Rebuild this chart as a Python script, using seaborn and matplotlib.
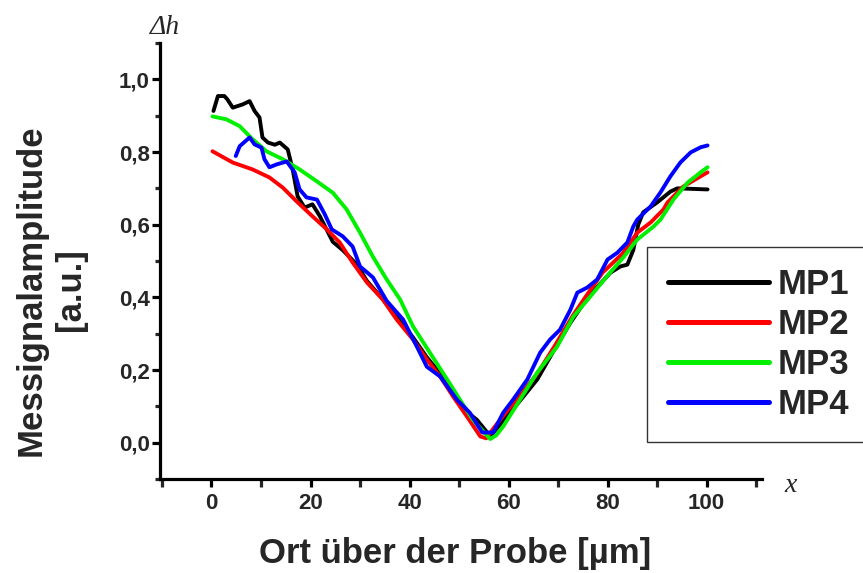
import numpy as np
import pandas as pd
import matplotlib
matplotlib.use("Agg")
import matplotlib.pyplot as plt
import seaborn as sns
from matplotlib.ticker import MultipleLocator, FuncFormatter

series_names = ["MP1", "MP2", "MP3", "MP4"]
series_colors = ["#000000", "#ff0000", "#00f000", "#0000ff"]

mp1_x = [0.4, 1.3, 2.6, 3.2, 4.3, 6.3, 7.7, 8.7, 9.7, 10.3, 11.4, 12.8, 13.8, 15.4, 16.4,
         17.4, 18.8, 20.4, 21.9, 24.5, 26.5, 29.4, 31.4, 34.6, 37.4, 40.7, 43.5, 46.2,
         48.8, 51.6, 53.6, 55.7, 56.5, 58.9, 62.0, 65.8, 69.0, 72.5, 76.0, 80.6, 82.6,
         84.0, 85.2, 86.2, 87.2, 90.0, 92.7, 94.1, 100.2]
mp1_y = [0.913, 0.954, 0.954, 0.945, 0.922, 0.931, 0.940, 0.913, 0.895, 0.840, 0.826,
         0.820, 0.826, 0.807, 0.752, 0.678, 0.647, 0.656, 0.623, 0.553, 0.530, 0.490,
         0.445, 0.395, 0.345, 0.290, 0.235, 0.190, 0.135, 0.085, 0.063, 0.028, 0.020,
         0.060, 0.110, 0.174, 0.250, 0.330, 0.400, 0.468, 0.485, 0.490, 0.530, 0.600,
         0.634, 0.661, 0.691, 0.700, 0.697]

mp2_x = [0.2, 4.3, 8.3, 11.7, 14.4, 17.2, 20.4, 23.3, 25.9, 28.5, 31.4, 34.6, 37.4, 40.7,
         43.5, 46.2, 48.8, 51.6, 54.3, 55.5, 57.0, 59.0, 62.0, 65.8, 69.5, 73.0, 76.0,
         79.0, 83.0, 86.0, 88.7, 91.3, 92.1, 95.3, 98.8, 100.2]
mp2_y = [0.802, 0.771, 0.752, 0.730, 0.702, 0.664, 0.623, 0.587, 0.551, 0.496, 0.441,
         0.394, 0.339, 0.284, 0.229, 0.182, 0.127, 0.072, 0.017, 0.012, 0.040, 0.075,
         0.125, 0.190, 0.270, 0.350, 0.410, 0.468, 0.520, 0.578, 0.606, 0.642, 0.661,
         0.705, 0.733, 0.744]

mp3_x = [0.2, 3.0, 5.7, 8.3, 11.1, 14.4, 17.8, 21.3, 24.5, 27.3, 30.0, 32.6, 35.4, 38.1,
         40.7, 44.1, 47.6, 50.2, 52.8, 56.3, 57.5, 58.9, 62.3, 65.8, 69.8, 73.1, 76.5,
         80.0, 83.2, 86.0, 89.3, 90.7, 93.3, 96.2, 98.8, 100.2]
mp3_y = [0.898, 0.890, 0.871, 0.835, 0.802, 0.780, 0.752, 0.719, 0.688, 0.642, 0.578,
         0.512, 0.449, 0.394, 0.320, 0.248, 0.174, 0.118, 0.063, 0.010, 0.020, 0.044,
         0.118, 0.193, 0.264, 0.347, 0.402, 0.460, 0.510, 0.559, 0.595, 0.614, 0.669,
         0.716, 0.744, 0.758]

mp4_x = [4.9, 5.7, 7.7, 8.7, 10.1, 10.7, 11.7, 13.2, 15.2, 16.8, 17.8, 19.2, 21.3, 22.9,
         24.3, 26.5, 28.5, 30.0, 32.6, 35.4, 38.7, 41.5, 43.5, 46.2, 49.6, 52.2, 54.7,
         56.9, 58.9, 60.9, 63.8, 66.4, 68.4, 70.4, 72.5, 73.9, 75.9, 77.9, 80.0, 82.0,
         84.0, 85.2, 86.0, 88.7, 90.7, 92.7, 94.7, 96.8, 98.8, 100.2]
mp4_y = [0.789, 0.816, 0.840, 0.821, 0.812, 0.780, 0.758, 0.766, 0.774, 0.744, 0.697,
         0.675, 0.669, 0.628, 0.587, 0.568, 0.540, 0.485, 0.455, 0.390, 0.339, 0.264,
         0.209, 0.182, 0.118, 0.082, 0.028, 0.028, 0.082, 0.118, 0.174, 0.248, 0.284,
         0.311, 0.366, 0.413, 0.427, 0.449, 0.504, 0.523, 0.551, 0.595, 0.614, 0.650,
         0.689, 0.733, 0.771, 0.799, 0.813, 0.818]

x_major_ticks = [0, 20, 40, 60, 80, 100]
y_major_ticks = [0.0, 0.2, 0.4, 0.6, 0.8, 1.0]

frames = []
for name, xs, ys in zip(series_names, [mp1_x, mp2_x, mp3_x, mp4_x],
                        [mp1_y, mp2_y, mp3_y, mp4_y]):
    frames.append(pd.DataFrame({"x": xs, "y": ys, "series": name}))
df = pd.concat(frames, ignore_index=True)

sns.set_style("ticks")
plt.rcParams["font.family"] = ["Liberation Sans", "DejaVu Sans"]

fig = plt.figure(figsize=(8.63, 5.73), dpi=100)
ax = fig.add_axes([160 / 863, 1 - 479 / 573, 602 / 863, 436 / 573])

sns.lineplot(data=df, x="x", y="y", hue="series", hue_order=series_names,
             palette=dict(zip(series_names, series_colors)), estimator=None,
             sort=False, linewidth=2.8, ax=ax, legend=False)

ax.set_xlim(-10.4, 111.2)
ax.set_ylim(-0.1, 1.1)
for s in ["top", "right"]:
    ax.spines[s].set_visible(False)
for s in ["left", "bottom"]:
    ax.spines[s].set_linewidth(2.3)
    ax.spines[s].set_color("black")

ax.xaxis.set_major_locator(plt.FixedLocator(x_major_ticks))
ax.xaxis.set_minor_locator(MultipleLocator(10))
ax.yaxis.set_major_locator(plt.FixedLocator(y_major_ticks))
ax.yaxis.set_minor_locator(MultipleLocator(0.1))
ax.xaxis.set_major_formatter(FuncFormatter(lambda v, p: f"{v:.0f}"))
ax.yaxis.set_major_formatter(FuncFormatter(lambda v, p: f"{v:.1f}".replace(".", ",")))

ax.tick_params(axis="both", which="major", direction="out", length=6, width=2.3,
               labelsize=16, color="black")
ax.tick_params(axis="x", which="minor", direction="out", length=6, width=2.3)
ax.tick_params(axis="y", which="minor", direction="out", length=3.5, width=2.3)
ax.tick_params(axis="y", which="major", pad=1.5)
ax.tick_params(axis="x", which="major", pad=4)
for lab in ax.get_xticklabels() + ax.get_yticklabels():
    lab.set_fontweight("bold")

ax.set_xlabel("Ort über der Probe [µm]", fontsize=25, fontweight="bold", va="center")
ax.xaxis.set_label_coords((455 - 160) / 602, (479 - 553) / 436)
ax.set_ylabel("Messignalamplitude\n[a.u.]", fontsize=25, fontweight="bold",
              va="center", ha="center", linespacing=1.25, multialignment="center")
ax.yaxis.set_label_coords((51 - 160) / 602, (479 - 290) / 436)

fig.text(165 / 863, 1 - 27 / 573, "Δh", fontfamily=["Liberation Serif", "DejaVu Serif"],
         style="italic", fontsize=20, ha="center", va="center")
fig.text(791 / 863, 1 - 485 / 573, "x", fontfamily=["Liberation Serif", "DejaVu Serif"],
         style="italic", fontsize=20, ha="center", va="center")

handles = [plt.Line2D([], [], color=c, lw=3.6) for c in series_colors]
leg = ax.legend(handles, series_names, loc="upper left",
                bbox_to_anchor=(647 / 863, 1 - 247 / 573), bbox_transform=fig.transFigure,
                prop={"weight": "bold", "size": 25}, frameon=True, fancybox=False,
                edgecolor="#333333", framealpha=1, handlelength=2.9, handletextpad=0.25,
                borderpad=0.6, labelspacing=0.2, borderaxespad=0)
leg.get_frame().set_linewidth(1.0)

fig.savefig("out.png", dpi=100)
